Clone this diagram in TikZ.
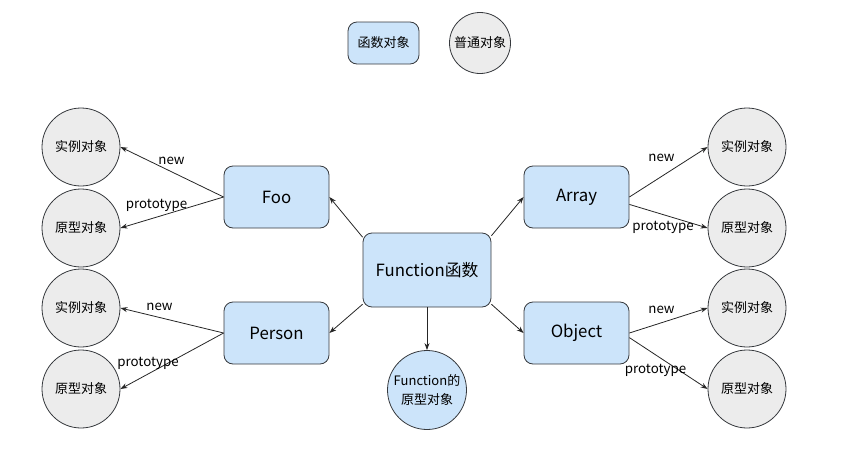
\documentclass[tikz,border=0pt]{standalone}
\usepackage{fontspec}
\setmainfont{Noto Sans CJK SC}
\usetikzlibrary{arrows.meta}

\definecolor{fnblue}{RGB}{204,228,250}
\definecolor{objgray}{RGB}{236,236,236}
\definecolor{rimgray}{RGB}{54,57,61}

\begin{document}
\begin{tikzpicture}[x=1pt, y=-1pt, line width=0.8pt,
  fnbox/.style={draw=rimgray, fill=fnblue, rounded corners=9pt, inner sep=0pt,
                minimum width=105pt, minimum height=62pt, font=\fontsize{16.8}{19}\selectfont},
  objball/.style={circle, draw=rimgray, fill=objgray, inner sep=0pt, minimum size=78pt,
                  font=\fontsize{13}{15}\selectfont},
  link/.style={draw=black!85, -{Stealth[length=7pt,width=5pt]}},
  tag/.style={inner sep=0pt, font=\fontsize{13.3}{15}\selectfont}]

  %% ==== 图例 ====
  \node[fnbox, minimum width=71pt, minimum height=42pt, font=\fontsize{13}{15}\selectfont] (keyfn) at (383.5,43) {函数对象};
  \node[objball, minimum size=61pt] (keyobj) at (480,43) {普通对象};

  %% ==== 函数对象 ====
  \node[fnbox, minimum width=128pt, minimum height=74pt] (func) at (427,270) {Function函数};
  \node[fnbox] (foo)    at (276.5,197) {Foo};
  \node[fnbox] (person) at (276.5,333) {Person};
  \node[fnbox] (array)  at (576.5,197) {Array};
  \node[fnbox] (object) at (576.5,333) {Object};
  \node[objball, fill=fnblue, minimum size=79pt, align=center,
        font=\fontsize{13}{19}\selectfont] (funcproto) at (427,390) {Function的\\原型对象};

  %% ==== 普通对象（左右两列）====
  \node[objball] (fooinst)    at (81,147)  {实例对象};
  \node[objball] (fooproto)   at (81,228)  {原型对象};
  \node[objball] (personinst) at (81,308)  {实例对象};
  \node[objball] (personproto) at (81,389) {原型对象};
  \node[objball] (arrayinst)  at (747,147) {实例对象};
  \node[objball] (arrayproto) at (747,228) {原型对象};
  \node[objball] (objinst)    at (747,308) {实例对象};
  \node[objball] (objproto)   at (747,389) {原型对象};

  %% ==== 连线 ====
  \draw[link] (func.153) -- (foo.east);
  \draw[link] (func.208) -- (person.east);
  \draw[link] (func.28)  -- (array.west);
  \draw[link] (func.-28) -- (object.west);
  \draw[link] (func.south) -- (funcproto.north);

  \draw[link] (foo.west) -- (fooinst.east);
  \draw[link] (foo.west) -- (fooproto.east);
  \draw[link] (person.west) -- (personinst.east);
  \draw[link] (person.west) -- (personproto.east);
  \draw[link] (array.east) -- (arrayinst.west);
  \draw[link] (array.-8)   -- (arrayproto.west);
  \draw[link] (object.east) -- (objinst.west);
  \draw[link] (object.-5)   -- (objproto.west);

  %% ==== 连线标签 ====
  \node[tag] (foonew)     at (171.5,161) {new};
  \node[tag] (fooptype)   at (156.5,205) {prototype};
  \node[tag] (personnew)  at (159.5,307) {new};
  \node[tag] (personptype) at (148,363)  {prototype};
  \node[tag] (arraynew)   at (661.5,158) {new};
  \node[tag] (arrayptype) at (663,227)   {prototype};
  \node[tag] (objnew)     at (661.5,310) {new};
  \node[tag] (objptype)   at (655.5,370) {prototype};

  % 钉死画布
  \pgfresetboundingbox
  \path[use as bounding box] (0,0) rectangle (841,474);
\end{tikzpicture}
\end{document}
